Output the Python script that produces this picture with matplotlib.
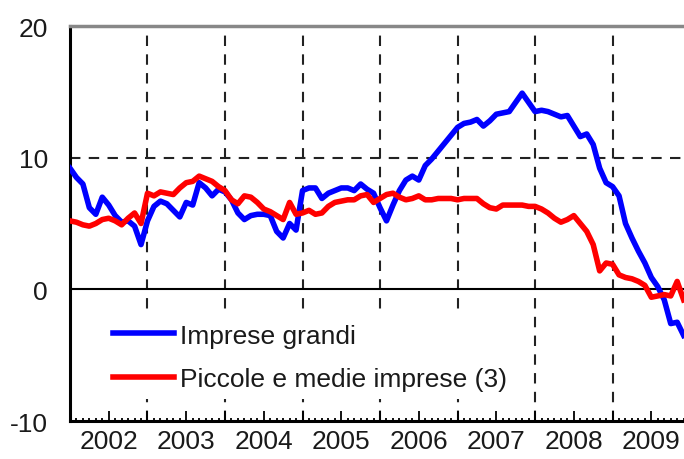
import matplotlib
matplotlib.use('Agg')
import matplotlib.pyplot as plt
from matplotlib.ticker import FixedLocator, FixedFormatter

plt.rcParams['font.family'] = ['Liberation Sans', 'DejaVu Sans']

# dati mensili da gennaio 2002
grandi = [9.2, 8.5, 8.0, 6.2, 5.7, 7.0, 6.4, 5.6, 5.1, 5.2, 4.8, 3.4,
          5.2, 6.3, 6.7, 6.5, 6.0, 5.5, 6.6, 6.4, 8.1, 7.7, 7.1, 7.6,
          7.4, 6.8, 5.8, 5.3, 5.6, 5.7, 5.7, 5.6, 4.4, 3.9, 5.0, 4.5,
          7.5, 7.7, 7.7, 6.9, 7.3, 7.5, 7.7, 7.7, 7.5, 8.0, 7.6, 7.3,
          6.2, 5.2, 6.4, 7.5, 8.3, 8.6, 8.3, 9.4, 9.9, 10.5, 11.1, 11.7,
          12.3, 12.6, 12.7, 12.9, 12.4, 12.8, 13.3, 13.4, 13.5, 14.2, 14.9, 14.2,
          13.5, 13.6, 13.5, 13.3, 13.1, 13.2, 12.4, 11.6, 11.8, 11.0, 9.2, 8.1,
          7.8, 7.1, 5.0, 3.9, 2.9, 2.0, 0.9, 0.2, -0.8, -2.6, -2.5, -3.5]
piccole = [5.2, 5.1, 4.9, 4.8, 5.0, 5.3, 5.4, 5.2, 4.9, 5.4, 5.8, 5.0,
           7.3, 7.1, 7.4, 7.3, 7.2, 7.7, 8.1, 8.2, 8.6, 8.4, 8.2, 7.8,
           7.5, 6.8, 6.5, 7.1, 7.0, 6.6, 6.1, 5.9, 5.6, 5.3, 6.6, 5.7,
           5.8, 6.0, 5.7, 5.8, 6.3, 6.6, 6.7, 6.8, 6.8, 7.1, 7.2, 6.6,
           6.9, 7.2, 7.3, 7.0, 6.8, 6.9, 7.1, 6.8, 6.8, 6.9, 6.9, 6.9,
           6.8, 6.9, 6.9, 6.9, 6.5, 6.2, 6.1, 6.4, 6.4, 6.4, 6.4, 6.3,
           6.3, 6.1, 5.8, 5.4, 5.1, 5.3, 5.6, 5.0, 4.4, 3.4, 1.4, 2.0,
           1.9, 1.1, 0.9, 0.8, 0.6, 0.3, -0.6, -0.5, -0.4, -0.5, 0.6, -0.8]
anni = ['2002', '2003', '2004', '2005', '2006', '2007', '2008', '2009']
etichette = ['Imprese grandi', 'Piccole e medie imprese (3)']

x = [2002 + i / 12 for i in range(len(grandi))]

fig = plt.figure(figsize=(6.84, 4.6), dpi=100)
ax = fig.add_axes([0.1023, 0.0826, 0.9, 0.8587])

# griglia tratteggiata
for a in range(2003, 2010):
    ax.axvline(a, color='#222222', lw=1.5, ls=(0, (5, 4)), zorder=1)
ax.axhline(10, color='#222222', lw=1.5, ls=(0, (5, 4)), zorder=1)
ax.axhline(0, color='black', lw=1.5, zorder=1)

ax.plot(x, grandi, color='#0000ff', lw=4, label=etichette[0], zorder=3)
ax.plot(x, piccole, color='#ff0000', lw=4, label=etichette[1], zorder=3)

ax.set_xlim(2002, 2002 + 95.3 / 12)
ax.set_ylim(-10, 20)
ax.set_yticks([-10, 0, 10, 20])
ax.set_yticklabels(['-10', '0', '10', '20'])

pos = [2002 + k * 0.5 for k in range(1, 16)]
lab = []
for k in range(1, 16):
    if k % 2 == 1:
        lab.append(anni[k // 2])
    else:
        lab.append('')
ax.xaxis.set_major_locator(FixedLocator(pos))
ax.xaxis.set_major_formatter(FixedFormatter(lab))
ax.xaxis.set_minor_locator(FixedLocator([2002 + i / 12 for i in range(96)]))
ax.tick_params(axis='x', which='major', direction='in', length=7, width=1.3,
               labelsize=19, pad=6, colors='black', labelcolor='#1a1a1a')
ax.tick_params(axis='x', which='minor', direction='in', length=2.5, width=1.3)
ax.tick_params(axis='y', direction='in', length=0, labelsize=19, pad=16,
               labelcolor='#1a1a1a')

ax.spines['right'].set_visible(False)
ax.spines['top'].set_color('#888888')
ax.spines['top'].set_linewidth(2.5)
ax.spines['left'].set_linewidth(2.2)
ax.spines['bottom'].set_linewidth(2.2)

leg = ax.legend(loc='lower left', bbox_to_anchor=(0.057, 0.055), borderaxespad=0,
                fontsize=19, frameon=True, fancybox=False, edgecolor='none',
                facecolor='white', framealpha=1, handlelength=2.3,
                handletextpad=0.25, labelspacing=0.75, borderpad=0.3)
for t in leg.get_texts():
    t.set_color('#1a1a1a')

plt.savefig('out.png', dpi=100)
